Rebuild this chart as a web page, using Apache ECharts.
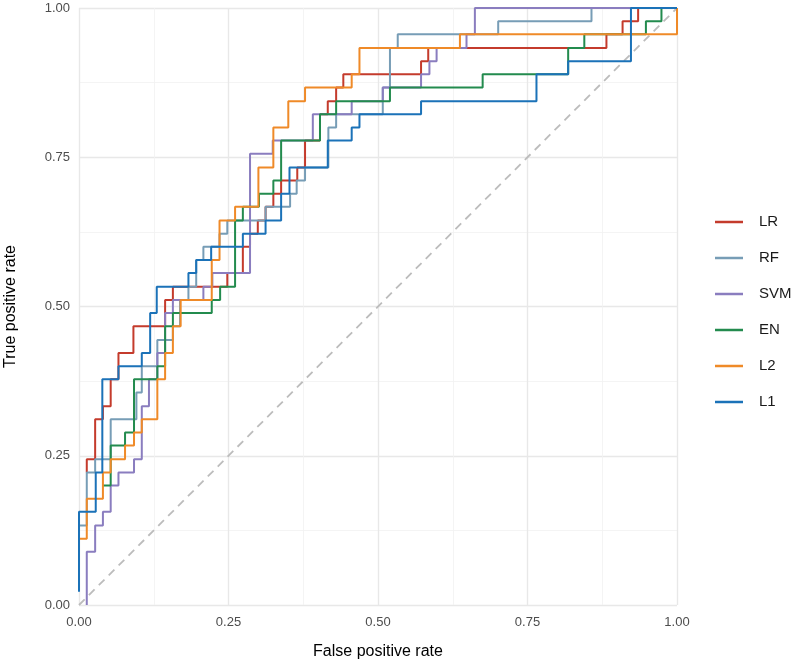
<!DOCTYPE html>
<html>
<head>
<meta charset="utf-8">
<script src="https://cdn.jsdelivr.net/npm/echarts@6/dist/echarts.min.js"></script>
<style>
  html, body { margin: 0; padding: 0; background: #fff; }
  #chart { width: 797px; height: 663px; }
</style>
</head>
<body>
<div id="chart"></div>
<script>
// ROC curves (step points: fpr, tpr after the jump)
const tickValues = [0, 0.25, 0.5, 0.75, 1];
const modelNames = ['LR', 'RF', 'SVM', 'EN', 'L2', 'L1'];

const lrFpr = [0.013, 0.013, 0.027, 0.040, 0.053, 0.066, 0.091, 0.144, 0.157, 0.248, 0.274, 0.286, 0.299, 0.312, 0.325, 0.338, 0.365, 0.378, 0.403, 0.416, 0.430, 0.442, 0.572, 0.584, 0.882, 0.909, 0.935, 1.0];
const lrTpr = [0.222, 0.244, 0.311, 0.333, 0.378, 0.422, 0.467, 0.511, 0.533, 0.556, 0.600, 0.622, 0.644, 0.667, 0.689, 0.711, 0.733, 0.778, 0.822, 0.844, 0.867, 0.889, 0.911, 0.933, 0.956, 0.978, 1.0, 1.0];

const rfFpr = [0, 0.013, 0.027, 0.053, 0.096, 0.105, 0.131, 0.157, 0.169, 0.183, 0.196, 0.208, 0.235, 0.248, 0.312, 0.353, 0.364, 0.378, 0.417, 0.430, 0.508, 0.520, 0.533, 0.701, 0.857, 1.0];
const rfTpr = [0.133, 0.222, 0.244, 0.311, 0.356, 0.400, 0.444, 0.467, 0.511, 0.533, 0.578, 0.600, 0.622, 0.644, 0.667, 0.689, 0.711, 0.733, 0.800, 0.822, 0.867, 0.933, 0.956, 0.978, 1.0, 1.0];

const svmFpr = [0.013, 0.013, 0.027, 0.040, 0.053, 0.066, 0.092, 0.105, 0.117, 0.131, 0.144, 0.157, 0.208, 0.223, 0.286, 0.324, 0.391, 0.456, 0.508, 0.572, 0.586, 0.598, 0.648, 0.662, 1.0];
const svmTpr = [0, 0.089, 0.133, 0.156, 0.200, 0.222, 0.244, 0.333, 0.378, 0.422, 0.489, 0.511, 0.533, 0.556, 0.756, 0.778, 0.822, 0.844, 0.867, 0.889, 0.911, 0.933, 0.956, 1.0, 1.0];

const enFpr = [0.040, 0.053, 0.077, 0.092, 0.131, 0.144, 0.157, 0.222, 0.236, 0.261, 0.274, 0.301, 0.325, 0.338, 0.403, 0.430, 0.520, 0.675, 0.818, 0.845, 0.948, 0.974, 1.0];
const enTpr = [0.200, 0.267, 0.289, 0.378, 0.400, 0.467, 0.489, 0.511, 0.533, 0.644, 0.667, 0.689, 0.711, 0.778, 0.822, 0.844, 0.867, 0.889, 0.933, 0.956, 0.978, 1.0, 1.0];

const l2Fpr = [0, 0.013, 0.040, 0.053, 0.077, 0.092, 0.105, 0.131, 0.144, 0.157, 0.170, 0.222, 0.235, 0.261, 0.300, 0.325, 0.350, 0.378, 0.456, 0.469, 0.637, 1.0];
const l2Tpr = [0.111, 0.178, 0.222, 0.244, 0.267, 0.289, 0.311, 0.378, 0.422, 0.467, 0.511, 0.578, 0.644, 0.667, 0.733, 0.800, 0.844, 0.867, 0.889, 0.933, 0.956, 1.0];

const l1Fpr = [0, 0, 0.028, 0.039, 0.066, 0.105, 0.119, 0.130, 0.183, 0.196, 0.221, 0.274, 0.312, 0.338, 0.352, 0.416, 0.456, 0.469, 0.572, 0.765, 0.818, 0.923, 1.0];
const l1Tpr = [0.022, 0.156, 0.222, 0.378, 0.400, 0.422, 0.489, 0.533, 0.556, 0.578, 0.600, 0.622, 0.644, 0.689, 0.733, 0.778, 0.800, 0.822, 0.844, 0.889, 0.911, 1.0, 1.0];

const chanceX = [0, 1];
const chanceY = [0, 1];

const colorList = ['#c43b2c', '#779db6', '#8a7dbf', '#238b4e', '#ef8a28', '#1b72b8'];

function zip(xs, ys) {
  return xs.map((x, i) => [x, ys[i]]);
}

const curves = [
  zip(lrFpr, lrTpr),
  zip(rfFpr, rfTpr),
  zip(svmFpr, svmTpr),
  zip(enFpr, enTpr),
  zip(l2Fpr, l2Tpr),
  zip(l1Fpr, l1Tpr)
];

const chart = echarts.init(document.getElementById('chart'), null, { renderer: 'canvas' });

const axisCommon = {
  type: 'value',
  min: 0,
  max: 1,
  interval: 0.25,
  axisLine: { show: false },
  axisTick: { show: false },
  axisLabel: {
    color: '#4d4d4d',
    fontSize: 13,
    fontFamily: 'Liberation Sans, Arial, sans-serif',
    formatter: v => v.toFixed(2)
  },
  splitLine: { show: true, lineStyle: { color: '#e8e8e8', width: 1.4 } },
  minorTick: { show: false, splitNumber: 2 },
  minorSplitLine: { show: true, lineStyle: { color: '#f1f1f1', width: 0.8 } },
  nameLocation: 'middle',
  nameTextStyle: {
    color: '#000',
    fontSize: 16,
    fontFamily: 'Liberation Sans, Arial, sans-serif'
  }
};

const series = [{
  name: 'chance',
  type: 'line',
  data: zip(chanceX, chanceY),
  showSymbol: false,
  silent: true,
  lineStyle: { color: '#bcbcbc', width: 1.8, type: [8, 6] },
  z: 1
}];

modelNames.forEach((name, i) => {
  series.push({
    name: name,
    type: 'line',
    step: 'end',
    data: curves[i],
    showSymbol: false,
    symbol: 'none',
    lineStyle: { color: colorList[i], width: 2 },
    itemStyle: { color: colorList[i] },
    z: 2 + i
  });
});

chart.setOption({
  animation: false,
  backgroundColor: '#fff',
  grid: { left: 79, right: 120, top: 8, bottom: 58, outerBoundsMode: 'none' },
  xAxis: Object.assign({}, axisCommon, {
    name: 'False positive rate',
    nameGap: 39,
    axisLabel: Object.assign({}, axisCommon.axisLabel, { margin: 11 })
  }),
  yAxis: Object.assign({}, axisCommon, {
    name: 'True positive rate',
    nameGap: 60,
    axisLabel: Object.assign({}, axisCommon.axisLabel, { margin: 9 })
  }),
  legend: {
    data: modelNames,
    orient: 'vertical',
    left: 710,
    top: 208,
    icon: 'rect',
    itemWidth: 28,
    itemHeight: 2.5,
    itemGap: 18,
    textStyle: {
      color: '#1a1a1a',
      fontSize: 15,
      lineHeight: 18,
      padding: [0, 0, 0, 11],
      fontFamily: 'Liberation Sans, Arial, sans-serif'
    }
  },
  series: series
});
</script>
</body>
</html>
